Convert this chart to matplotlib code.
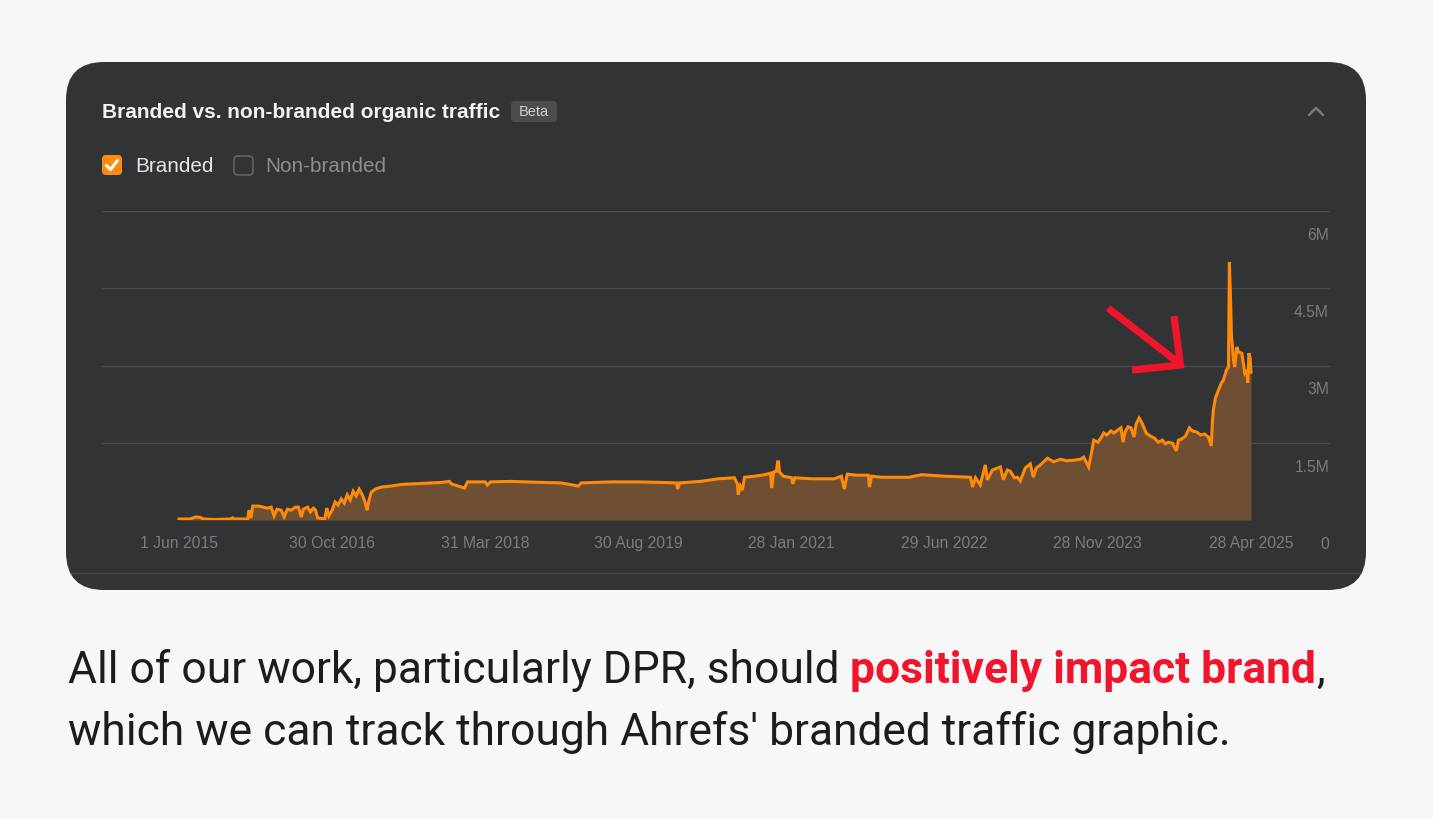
import matplotlib
matplotlib.use("Agg")
import matplotlib.pyplot as plt
import matplotlib.dates as mdates
import matplotlib.transforms as mtransforms
from matplotlib.patches import FancyBboxPatch
import pandas as pd
import numpy as np

# ---------------- data ----------------
dates = [
    "2015-06-01", "2015-07-08", "2015-07-29", "2015-08-12", "2015-08-22", "2015-10-02",
    "2015-11-22", "2015-11-29", "2015-12-06", "2016-01-19", "2016-01-23", "2016-01-30",
    "2016-02-05", "2016-02-26", "2016-03-10", "2016-03-24", "2016-04-07", "2016-04-17",
    "2016-04-27", "2016-05-11", "2016-05-21", "2016-06-01", "2016-06-14", "2016-06-28",
    "2016-07-08", "2016-07-18", "2016-07-25", "2016-08-08", "2016-08-18", "2016-08-28",
    "2016-09-04", "2016-09-11", "2016-10-05", "2016-10-12", "2016-10-19", "2016-10-30",
    "2016-11-09", "2016-11-19", "2016-11-30", "2016-12-10", "2016-12-20", "2016-12-30",
    "2017-01-09", "2017-01-19", "2017-01-29", "2017-02-08", "2017-02-18", "2017-02-25",
    "2017-03-04", "2017-03-11", "2017-03-25", "2017-04-14", "2017-05-18", "2017-06-21",
    "2017-08-28", "2017-11-03", "2017-11-30", "2017-12-07", "2018-01-20", "2018-01-30",
    "2018-03-31", "2018-04-07", "2018-04-17", "2018-06-24", "2018-10-05", "2018-12-12",
    "2019-02-08", "2019-02-18", "2019-06-01", "2019-08-30", "2019-11-13", "2020-01-06",
    "2020-01-09", "2020-01-16", "2020-03-28", "2020-05-25", "2020-07-19", "2020-07-29",
    "2020-08-01", "2020-08-08", "2020-08-15", "2020-08-22", "2020-09-25", "2020-10-29",
    "2020-11-18", "2020-11-22", "2020-11-28", "2020-12-08", "2020-12-12", "2020-12-15",
    "2020-12-18", "2021-01-01", "2021-01-28", "2021-02-01", "2021-02-08", "2021-04-04",
    "2021-06-21", "2021-07-15", "2021-07-25", "2021-08-04", "2021-09-04", "2021-10-14",
    "2021-10-18", "2021-10-25", "2021-11-28", "2022-02-28", "2022-04-13", "2022-06-29",
    "2022-09-24", "2022-10-01", "2022-10-11", "2022-10-27", "2022-11-13", "2022-11-20",
    "2022-12-07", "2023-01-03", "2023-01-13", "2023-01-26", "2023-02-05", "2023-02-19",
    "2023-03-01", "2023-03-11", "2023-03-28", "2023-04-14", "2023-04-24", "2023-05-04",
    "2023-05-18", "2023-06-11", "2023-07-01", "2023-07-25", "2023-08-14", "2023-09-07",
    "2023-10-01", "2023-10-11", "2023-10-28", "2023-11-07", "2023-11-14", "2023-11-28",
    "2023-12-08", "2023-12-18", "2023-12-28", "2024-01-11", "2024-01-21", "2024-02-04",
    "2024-02-14", "2024-02-21", "2024-02-28", "2024-03-09", "2024-03-19", "2024-03-29",
    "2024-04-05", "2024-04-15", "2024-04-22", "2024-04-29", "2024-05-09", "2024-05-23",
    "2024-06-06", "2024-06-19", "2024-07-03", "2024-07-13", "2024-07-23", "2024-08-06",
    "2024-08-19", "2024-08-26", "2024-09-05", "2024-09-19", "2024-10-02", "2024-10-12",
    "2024-10-26", "2024-11-09", "2024-11-22", "2024-12-05", "2024-12-15", "2024-12-19",
    "2024-12-22", "2024-12-29", "2025-01-08", "2025-01-18", "2025-01-25", "2025-02-04",
    "2025-02-11", "2025-02-14", "2025-02-18", "2025-02-21", "2025-02-28", "2025-03-04",
    "2025-03-11", "2025-03-17", "2025-03-28", "2025-04-07", "2025-04-14", "2025-04-17",
    "2025-04-21", "2025-04-25", "2025-04-28",
]
branded_m = [
    0.02, 0.02, 0.06, 0.05, 0.02, 0.01,
    0.02, 0.04, 0.02, 0.02, 0.19, 0.04,
    0.27, 0.27, 0.25, 0.23, 0.25, 0.08,
    0.21, 0.19, 0.06, 0.21, 0.19, 0.25,
    0.25, 0.06, 0.21, 0.25, 0.16, 0.23,
    0.19, 0.04, 0.02, 0.23, 0.08, 0.19,
    0.35, 0.29, 0.41, 0.33, 0.49, 0.39,
    0.56, 0.47, 0.60, 0.50, 0.35, 0.19,
    0.39, 0.54, 0.60, 0.64, 0.66, 0.69,
    0.71, 0.73, 0.75, 0.70, 0.62, 0.74,
    0.74, 0.68, 0.74, 0.75, 0.73, 0.72,
    0.66, 0.72, 0.74, 0.74, 0.73, 0.72,
    0.60, 0.72, 0.75, 0.80, 0.82, 0.70,
    0.49, 0.66, 0.58, 0.83, 0.85, 0.88,
    0.91, 0.62, 0.93, 0.95, 1.13, 1.13,
    0.93, 0.85, 0.82, 0.70, 0.82, 0.80,
    0.80, 0.85, 0.60, 0.89, 0.87, 0.87,
    0.64, 0.85, 0.83, 0.83, 0.88, 0.85,
    0.83, 0.64, 0.82, 0.68, 1.07, 0.78,
    0.97, 1.03, 0.78, 0.97, 0.95, 0.82,
    0.83, 0.76, 1.01, 1.09, 0.83, 1.01,
    1.07, 1.20, 1.13, 1.18, 1.15, 1.16,
    1.18, 1.22, 1.03, 1.32, 1.55, 1.51,
    1.59, 1.69, 1.65, 1.73, 1.69, 1.75,
    1.79, 1.51, 1.71, 1.81, 1.79, 1.61,
    1.86, 1.98, 1.92, 1.83, 1.69, 1.63,
    1.59, 1.51, 1.55, 1.48, 1.51, 1.49,
    1.34, 1.55, 1.57, 1.63, 1.79, 1.73,
    1.71, 1.65, 1.67, 1.61, 1.44, 1.94,
    2.14, 2.37, 2.52, 2.66, 2.72, 2.91,
    2.97, 5.01, 4.27, 3.59, 3.11, 2.97,
    3.36, 3.26, 3.24, 2.85, 2.91, 2.66,
    3.24, 3.15, 2.87,
]
xtick_dates = ["2015-06-01", "2016-10-30", "2018-03-31", "2019-08-30",
               "2021-01-28", "2022-06-29", "2023-11-28", "2025-04-28"]
xtick_labels = ["1 Jun 2015", "30 Oct 2016", "31 Mar 2018", "30 Aug 2019",
                "28 Jan 2021", "29 Jun 2022", "28 Nov 2023", "28 Apr 2025"]
ytick_values = [0, 1.5e6, 3e6, 4.5e6, 6e6]
ytick_labels = ["0", "1.5M", "3M", "4.5M", "6M"]

title = "Branded vs. non-branded organic traffic"
legend_on = "Branded"
legend_off = "Non-branded"
caption_1a = "All of our work, particularly DPR, should "
caption_1b = "positively impact brand"
caption_1c = ","
caption_2 = "which we can track through Ahrefs' branded traffic graphic."

# ---------------- figure ----------------
W, H = 1433, 819
DPI = 100
fig = plt.figure(figsize=(W / DPI, H / DPI), dpi=DPI)
fig.patch.set_facecolor("#f7f7f7")
renderer = fig.canvas.get_renderer()

bg = fig.add_axes([0, 0, 1, 1], zorder=0)
bg.set_xlim(0, W)
bg.set_ylim(H, 0)
bg.axis("off")

sans = ["Liberation Sans", "DejaVu Sans"]


def fit_size(s, width_px, family, weight="normal", base=20.0):
    t = fig.text(0, 0, s, fontsize=base, family=family, fontweight=weight)
    w = t.get_window_extent(renderer).width
    t.remove()
    return base * width_px / w


CARD = "#323335"
card = FancyBboxPatch((66, 62), 1300, 528, boxstyle="round,pad=0,rounding_size=38",
                      facecolor=CARD, edgecolor="none", zorder=1)
bg.add_patch(card)
div, = bg.plot([66, 1366], [573, 573], color="#46474a", lw=1.0, zorder=2)
div.set_clip_path(card)

bg.text(102, 112, title, color="#f2f2f2", fontsize=fit_size(title, 397, sans, "bold"),
        fontweight="bold", family=sans, va="center", ha="left", zorder=3)
badge = FancyBboxPatch((511, 101), 46, 21, boxstyle="round,pad=0,rounding_size=4",
                       facecolor="#4b4c50", edgecolor="none", zorder=2)
bg.add_patch(badge)
bg.text(534, 111.5, "Beta", color="#d0d1d3", fontsize=10.5, family=sans,
        va="center", ha="center", zorder=3)
bg.plot([1309, 1316, 1323], [115, 108, 115], color="#77787b", lw=1.8,
        solid_capstyle="round", zorder=3)

cb = FancyBboxPatch((102, 155), 20, 20, boxstyle="round,pad=0,rounding_size=4",
                    facecolor="#ff8c0f", edgecolor="none", zorder=2)
bg.add_patch(cb)
bg.plot([106.5, 110.5, 117.5], [165.5, 169.5, 160.5], color="white", lw=2.2,
        solid_capstyle="round", solid_joinstyle="round", zorder=3)
leg_fs = fit_size(legend_on, 78, sans)
bg.text(135, 167, legend_on, color="#e6e6e6", fontsize=leg_fs, family=sans,
        va="center", ha="left", zorder=3)
cb2 = FancyBboxPatch((234, 156), 19, 19, boxstyle="round,pad=0,rounding_size=4",
                     facecolor="none", edgecolor="#626366", lw=1.2, zorder=2)
bg.add_patch(cb2)
bg.text(265, 167, legend_off, color="#8c8d90", fontsize=leg_fs, family=sans,
        va="center", ha="left", zorder=3)

# ---------------- data axes ----------------
L, R, T, B = 102, 1330, 211, 520
ax = fig.add_axes([L / W, 1 - B / H, (R - L) / W, (B - T) / H], zorder=1)
ax.patch.set_alpha(0)
for s in ax.spines.values():
    s.set_visible(False)

x = pd.to_datetime(dates)
y = np.array(branded_m) * 1e6
ax.fill_between(x, 0, y, color="#6f4f33", lw=0, zorder=2)
ax.plot(x, y, color="#ff8a0a", lw=2.2, zorder=3, solid_joinstyle="miter")

xt = pd.to_datetime(xtick_dates)
d0 = mdates.date2num(xt[0])
d7 = mdates.date2num(xt[-1])
px_per_day = (1251 - 179) / (d7 - d0)
ax.set_xlim(d0 - (179 - L) / px_per_day, d0 + (R - 179) / px_per_day)
ax.set_ylim(0, 6e6)

ax.set_yticks(ytick_values)
ax.set_yticklabels([])
ax.tick_params(axis="y", length=0)
ax.grid(axis="y", color="#4a4b4e", lw=1.0, zorder=0)
ax.set_axisbelow(True)

tick_fs = fit_size("30 Oct 2016", 86, sans)
ax.set_xticks(mdates.date2num(xt))
ax.set_xticklabels(xtick_labels, color="#7b7c7f", fontsize=tick_fs, family=sans)
ax.tick_params(axis="x", length=0, pad=11.5)

off = mtransforms.ScaledTranslation(-1 / DPI, -24.5 / DPI, fig.dpi_scale_trans)
for v, lab in zip(ytick_values, ytick_labels):
    ax.text(1.0, v, lab, transform=ax.get_yaxis_transform() + off,
            ha="right", va="center", color="#7b7c7f", fontsize=tick_fs, family=sans)

# ---------------- overlay: arrow ----------------
top = fig.add_axes([0, 0, 1, 1], zorder=3)
top.set_xlim(0, W)
top.set_ylim(H, 0)
top.axis("off")
red = "#f0142d"
top.plot([1108, 1180], [308, 364], color=red, lw=5.2, solid_capstyle="butt")
top.plot([1174, 1180.5, 1132], [316, 365, 370], color=red, lw=5.2,
         solid_capstyle="butt", solid_joinstyle="miter")

# ---------------- caption ----------------
cap_font = ["Roboto", "DejaVu Sans"]
fs = 0.5 * (fit_size(caption_2, 1145, cap_font) +
            fit_size(caption_1a + caption_1b + caption_1c, 1267, cap_font))


def put(xpix, ypix, s, **kw):
    t = top.text(xpix, ypix, s, fontsize=fs, family=cap_font, va="baseline",
                 ha="left", **kw)
    return t.get_window_extent(renderer).x1


xe = put(68, 683, caption_1a, color="#1c1c1e")
xe = put(xe, 683, caption_1b, color=red, fontweight="bold")
put(xe, 683, caption_1c, color="#1c1c1e")
put(68, 745, caption_2, color="#1c1c1e")

fig.savefig("out.png", dpi=DPI, facecolor=fig.get_facecolor())
